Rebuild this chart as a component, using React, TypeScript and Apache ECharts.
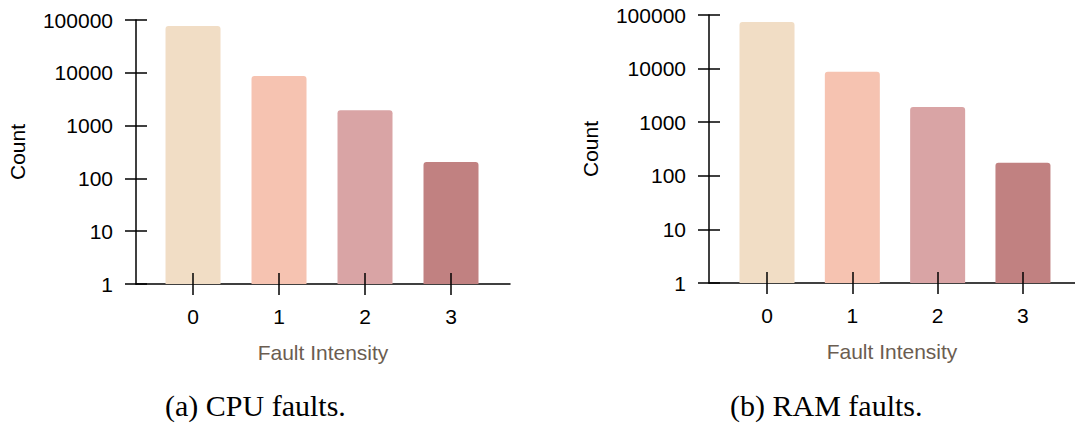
import React, { useEffect, useRef } from "react";
import * as echarts from "echarts";

const categories = [0, 1, 2, 3];
const cpuCounts = [77000, 8700, 1950, 205];
const ramCounts = [74000, 8700, 1920, 176];
const yTicks = [1, 10, 100, 1000, 10000, 100000];
const barColors = ["#f1ddc5", "#f6c3b1", "#d9a4a5", "#c18181"];
const captions = ["(a) CPU faults.", "(b) RAM faults."];

export default function App() {
  const ref = useRef<HTMLDivElement>(null);
  useEffect(() => {
    const chart = echarts.init(ref.current!, null, { renderer: "svg" });
    const grids = [
      { left: 136, top: 20, width: 374, height: 264 },
      { left: 709, top: 15, width: 366, height: 268 },
    ];
    const xRanges = [
      [-0.663, 3.686],
      [-0.68, 3.61],
    ];
    const font = "Liberation Sans, Arial, sans-serif";
    const fs = 21;
    const tickStyle = { color: "#000", width: 1.5 };
    const xAxis: any[] = [];
    const yAxis: any[] = [];
    const series: any[] = [];
    [cpuCounts, ramCounts].forEach((vals, i) => {
      xAxis.push({
        type: "value",
        gridIndex: i,
        min: xRanges[i][0],
        max: xRanges[i][1],
        position: "bottom",
        splitLine: { show: false },
        axisLine: { show: true, onZero: false, lineStyle: tickStyle },
        axisTick: { show: true, length: 11, customValues: categories, lineStyle: tickStyle },
        axisLabel: { show: true, customValues: categories, margin: 22, fontSize: fs, color: "#000", fontFamily: font },
        name: "Fault Intensity",
        nameLocation: "middle",
        nameGap: 58,
        nameTextStyle: { fontSize: fs, color: "#6b5d51", fontFamily: font },
      });
      xAxis.push({
        type: "value",
        gridIndex: i,
        min: xRanges[i][0],
        max: xRanges[i][1],
        position: "bottom",
        z: 5,
        splitLine: { show: false },
        axisLine: { show: false, onZero: false },
        axisTick: { show: true, inside: true, length: 11, customValues: categories, lineStyle: tickStyle },
        axisLabel: { show: false },
      });
      yAxis.push({
        type: "log",
        gridIndex: i,
        min: 1,
        max: 100000,
        logBase: 10,
        position: "left",
        splitLine: { show: false },
        axisLine: { show: true, onZero: false, lineStyle: tickStyle },
        axisTick: { show: true, length: 11, lineStyle: tickStyle },
        axisLabel: {
          margin: 23,
          fontSize: fs,
          color: "#000",
          fontFamily: font,
          formatter: (v: number) => {
            const t = yTicks.find((x) => Math.abs(x - v) / x < 1e-6);
            return t !== undefined ? String(t) : "";
          },
        },
        name: "Count",
        nameLocation: "middle",
        nameGap: 108,
        nameTextStyle: { fontSize: fs, color: "#000", fontFamily: font },
      });
      yAxis.push({
        type: "log",
        gridIndex: i,
        min: 1,
        max: 100000,
        logBase: 10,
        position: "left",
        z: 5,
        splitLine: { show: false },
        axisLine: { show: false, onZero: false },
        axisTick: { show: true, inside: true, length: 11, lineStyle: tickStyle },
        axisLabel: { show: false },
      });
      series.push({
        type: "bar",
        xAxisIndex: i * 2,
        yAxisIndex: i * 2,
        barWidth: 55,
        data: vals.map((v, k) => ({
          value: [categories[k], v],
          itemStyle: { color: barColors[k], borderRadius: [3, 3, 0, 0] },
        })),
      });
    });
    chart.setOption({
      animation: false,
      grid: grids.map((g) => ({ ...g, containLabel: false })),
      xAxis,
      yAxis,
      series,
      graphic: [
        {
          type: "text",
          left: 165,
          top: 390,
          style: { text: captions[0], fontSize: 30, fontFamily: "Liberation Serif, serif", fill: "#000" },
        },
        {
          type: "text",
          left: 730,
          top: 390,
          style: { text: captions[1], fontSize: 30, fontFamily: "Liberation Serif, serif", fill: "#000" },
        },
      ],
    });
    return () => chart.dispose();
  }, []);
  return <div ref={ref} style={{ position: "absolute", left: 0, top: 0, width: 1075, height: 425 }} />;
}
